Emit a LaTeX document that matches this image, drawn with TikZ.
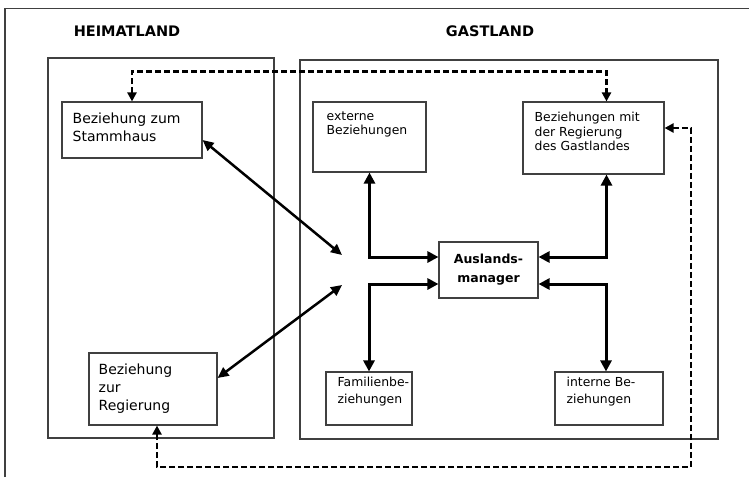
\documentclass[tikz,border=0pt]{standalone}
\usepackage{fontspec}
\setmainfont{DejaVu Sans}
\usetikzlibrary{arrows.meta}

\begin{document}
\begin{tikzpicture}[
  x=1pt, y=-1pt,
  region/.style={draw=black!75, line width=1.2pt, inner sep=0pt},
  box/.style={draw=black!75, line width=1.1pt, inner sep=0pt},
  head/.style={font=\fontsize{14.5}{17}\selectfont\bfseries, inner sep=0pt},
  bigtxt/.style={font=\fontsize{14}{18}\selectfont, align=left, anchor=north west, inner sep=0pt},
  smalltxt/.style={font=\fontsize{12.4}{14.5}\selectfont, align=left, anchor=north west, inner sep=0pt},
  midtxt/.style={font=\fontsize{12.4}{17}\selectfont, align=left, anchor=north west, inner sep=0pt},
  link/.style={<->, line width=3pt, >={Triangle[length=11pt,width=11pt]}},
  diag/.style={<->, line width=2.5pt, >={Triangle[length=11pt,width=10pt]}},
  back/.style={<->, line width=2.4pt, dash pattern=on 6pt off 3pt, >={Triangle[length=9pt,width=9pt]}}
]
\useasboundingbox (0,0) rectangle (749,477);
\draw[black!75, line width=1.2pt] (5,477) |- (749,8.5);

% the two countries
\node[region, minimum width=226pt, minimum height=380pt] (heimat) at (161,248) {};
\node[region, minimum width=418pt, minimum height=379pt] (gast) at (509,249.5) {};
\node[head] (heimatlbl) at (127,31) {HEIMATLAND};
\node[head] (gastlbl) at (490,31) {GASTLAND};

% relations
\node[box, minimum width=140pt, minimum height=56pt] (stamm) at (132,130) {};
\node[box, minimum width=113pt, minimum height=70pt] (extern) at (369.5,137) {};
\node[box, minimum width=141pt, minimum height=72pt] (reggast) at (593.5,138) {};
\node[box, minimum width=128pt, minimum height=72pt] (regheim) at (153,389) {};
\node[box, minimum width=86pt, minimum height=53pt] (familie) at (369,398.5) {};
\node[box, minimum width=108pt, minimum height=53pt] (intern) at (609,398.5) {};
\node[box, minimum width=99pt, minimum height=56pt, align=center,
  font=\fontsize{12.5}{19}\selectfont\bfseries] (manager) at (488.5,270) {Auslands-\\manager};

\node[bigtxt] (stammtext) at ([shift={(11,11)}]stamm.north west) {Beziehung zum\\Stammhaus};
\node[smalltxt] (externtext) at ([shift={(14,10)}]extern.north west) {externe\\Beziehungen};
\node[smalltxt] (reggasttext) at ([shift={(12,10.6)}]reggast.north west) {Beziehungen mit\\der Regierung\\des Gastlandes};
\node[bigtxt] (regheimtext) at ([shift={(10,11)}]regheim.north west) {Beziehung\\zur\\Regierung};
\node[midtxt] (familietext) at ([shift={(12,5)}]familie.north west) {Familienbe-\\ziehungen};
\node[midtxt] (interntext) at ([shift={(12,5)}]intern.north west) {interne Be-\\ziehungen};

% connectors
\coordinate (hubup) at (342,255);
\coordinate (hubdown) at (342,285);
\coordinate (loopcorner) at (691,467);

\draw[diag] ([yshift=-10pt]stamm.east) -- (hubup);
\draw[diag] ([yshift=11pt]regheim.east) -- (hubdown);

\draw[link] (extern.south) |- ([yshift=13pt]manager.west);
\draw[link] (familie.north) |- ([yshift=-14pt]manager.west);
\draw[link] ([xshift=13pt]reggast.south) |- ([yshift=13pt]manager.east);
\draw[link] ([xshift=-3pt]intern.north) |- ([yshift=-14pt]manager.east);

\draw[back] (stamm.north) -- ++(0,-30) -| ([xshift=13pt]reggast.north);
\draw[back] ([yshift=10pt]reggast.east) -| (loopcorner) -| ([xshift=4pt]regheim.south);
\end{tikzpicture}
\end{document}
